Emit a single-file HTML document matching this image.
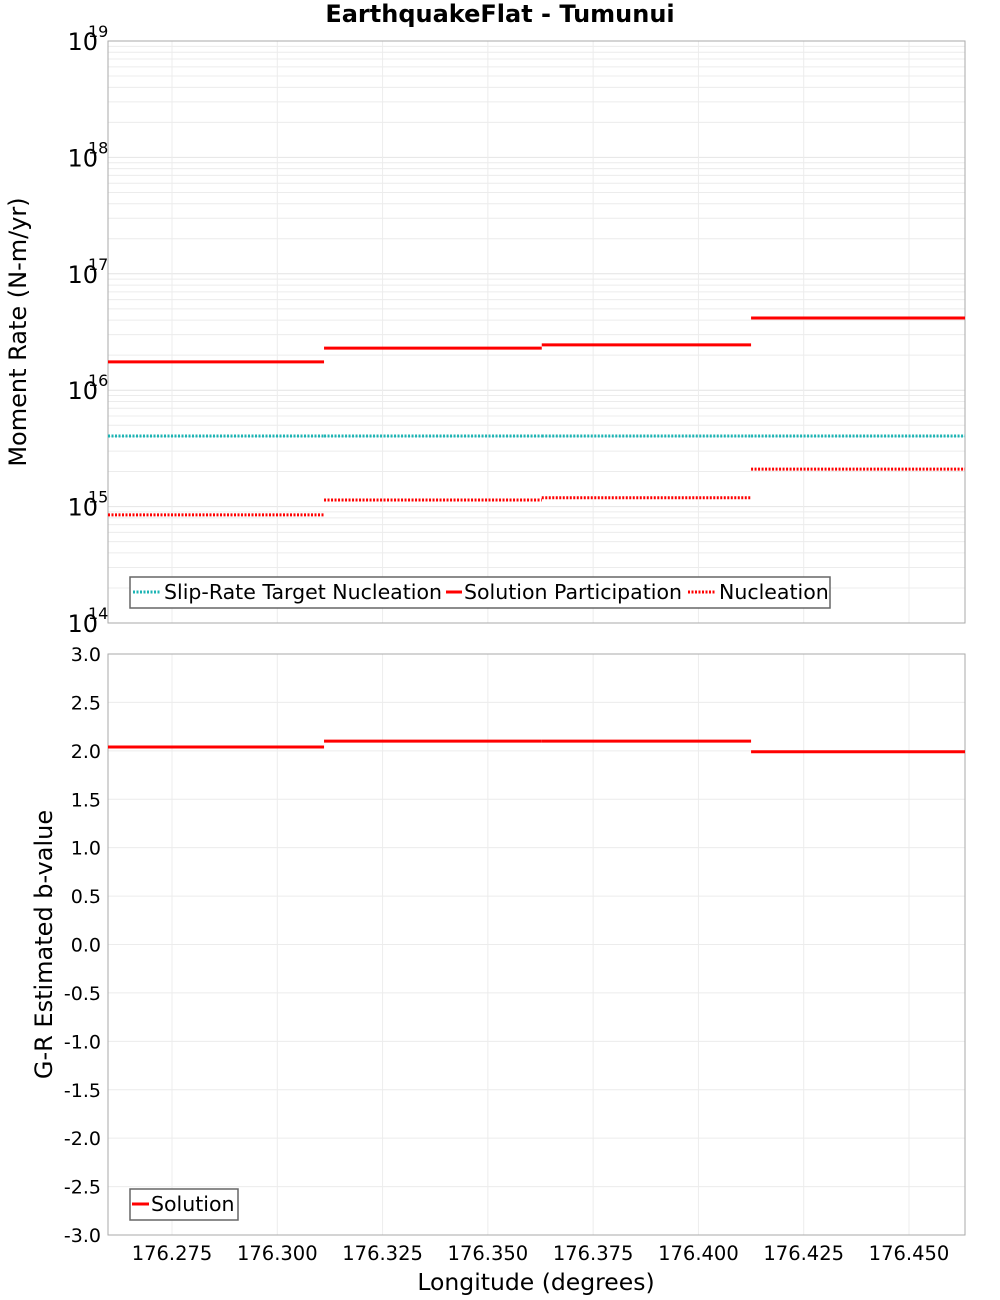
<!DOCTYPE html>
<html><head><meta charset="utf-8"><style>
body{margin:0;background:#fff;}
svg{display:block;font-family:"DejaVu Sans","Liberation Sans",sans-serif;}
</style></head><body>
<svg id="chart" width="1000" height="1300" xmlns="http://www.w3.org/2000/svg"></svg>
<script>
const segEdges = [176.2598, 176.3111, 176.3628, 176.4125, 176.4633];
const participation = [1.75e16, 2.3e16, 2.45e16, 4.17e16];
const nucleation = [8.5e14, 1.14e15, 1.19e15, 2.1e15];
const targetNucleation = [4.04e15, 4.04e15, 4.04e15, 4.04e15];
const bValues = [2.04, 2.10, 2.10, 1.99];
const xTicks = [176.275, 176.300, 176.325, 176.350, 176.375, 176.400, 176.425, 176.450];
const yLogTicks = [14, 15, 16, 17, 18, 19];
const bTicks = [-3,-2.5,-2,-1.5,-1,-0.5,0,0.5,1,1.5,2,2.5,3];

const NS = "http://www.w3.org/2000/svg";
const svg = document.getElementById('chart');
const L=108,R=965,T1=41,B1=623,T2=654,B2=1235;
const xMin=segEdges[0], xMax=segEdges[segEdges.length-1];
const xS = v => L + (v - xMin)/(xMax - xMin)*(R-L);
const yLog = v => B1 - (Math.log10(v) - 14)/5*(B1-T1);
const yB = v => B2 - (v + 3)/6*(B2-T2);
function el(tag, attrs, parent){const e=document.createElementNS(NS,tag);for(const k in attrs)e.setAttribute(k,attrs[k]);(parent||svg).appendChild(e);return e;}

const title = el('text',{x:500,y:22,'text-anchor':'middle','font-size':24,'font-weight':'bold'});


title.textContent='EarthquakeFlat - Tumunui';

const g1 = el('g',{});


for (let d=14; d<19; d++) for (let m=2; m<=9; m++){
  const y=yLog(m*Math.pow(10,d));
  el('line',{x1:L,x2:R,y1:y,y2:y,stroke:'#ececec','stroke-width':1},g1);
}
yLogTicks.forEach(d=>{const y=yLog(Math.pow(10,d));el('line',{x1:L,x2:R,y1:y,y2:y,stroke:'#e4e4e4'},g1);});
xTicks.forEach(v=>el('line',{x1:xS(v),x2:xS(v),y1:T1,y2:B1,stroke:'#ececec'},g1));
el('rect',{x:L,y:T1,width:R-L,height:B1-T1,fill:'none',stroke:'#aaa'},g1);
yLogTicks.forEach(d=>{
  const y=yLog(Math.pow(10,d));
  const t=el('text',{x:98,y:y+9,'text-anchor':'end','font-size':24},g1);
  
  
  t.textContent='10';
  const s=el('text',{x:88,y:y-4,'font-size':16},g1);
  
  
  s.textContent=String(d);
});
const yt1=el('text',{x:0,y:0,'text-anchor':'middle','font-size':24,transform:`translate(26,${(T1+B1)/2}) rotate(-90)`});


yt1.textContent='Moment Rate (N-m/yr)';

function steps(vals, yf, attrs, name, parent){
  vals.forEach((v,i)=>{
    const ln=el('line',Object.assign({x1:xS(segEdges[i]),x2:xS(segEdges[i+1]),y1:yf(v),y2:yf(v)},attrs),parent);
    
    
  });
}
steps(targetNucleation,yLog,{stroke:'#1cb4b4','stroke-width':3,'stroke-dasharray':'2,1.5'},'target-nucleation',g1);
steps(participation,yLog,{stroke:'#f00','stroke-width':3},'solution-participation',g1);
steps(nucleation,yLog,{stroke:'#f00','stroke-width':3,'stroke-dasharray':'2,1.5'},'nucleation',g1);

const lg=el('g',{});


el('rect',{x:130,y:577,width:700,height:31,fill:'#fff',stroke:'#666','stroke-width':1.5},lg);
el('line',{x1:133,x2:161,y1:592,y2:592,stroke:'#1cb4b4','stroke-width':3,'stroke-dasharray':'2,1.5'},lg);
let t=el('text',{x:164,y:599,'font-size':20.5},lg);t.textContent='Slip-Rate Target Nucleation';
el('line',{x1:446,x2:462,y1:592,y2:592,stroke:'#f00','stroke-width':3},lg);
t=el('text',{x:464,y:599,'font-size':20.5},lg);t.textContent='Solution Participation';
el('line',{x1:688,x2:716,y1:592,y2:592,stroke:'#f00','stroke-width':3,'stroke-dasharray':'2,1.5'},lg);
t=el('text',{x:719,y:599,'font-size':20.5},lg);t.textContent='Nucleation';

const g2=el('g',{});


bTicks.forEach(v=>el('line',{x1:L,x2:R,y1:yB(v),y2:yB(v),stroke:'#ececec'},g2));
xTicks.forEach(v=>el('line',{x1:xS(v),x2:xS(v),y1:T2,y2:B2,stroke:'#ececec'},g2));
el('rect',{x:L,y:T2,width:R-L,height:B2-T2,fill:'none',stroke:'#aaa'},g2);
bTicks.forEach(v=>{
  const tt=el('text',{x:101,y:yB(v)+7,'text-anchor':'end','font-size':19},g2);
  
  
  tt.textContent=v.toFixed(1);
});
steps(bValues,yB,{stroke:'#f00','stroke-width':3},'b-value-solution',g2);
const yt2=el('text',{x:0,y:0,'text-anchor':'middle','font-size':24,transform:`translate(52,${(T2+B2)/2}) rotate(-90)`});


yt2.textContent='G-R Estimated b-value';
xTicks.forEach(v=>{
  const tt=el('text',{x:xS(v),y:1260,'text-anchor':'middle','font-size':19.5},g2);
  
  
  tt.textContent=v.toFixed(3);
});
const xt=el('text',{x:536,y:1290,'text-anchor':'middle','font-size':23.5});


xt.textContent='Longitude (degrees)';
const lg2=el('g',{});


el('rect',{x:130,y:1189,width:108,height:31,fill:'#fff',stroke:'#666','stroke-width':1.5},lg2);
el('line',{x1:132,x2:149,y1:1204,y2:1204,stroke:'#f00','stroke-width':3},lg2);
t=el('text',{x:151,y:1211,'font-size':20.5},lg2);t.textContent='Solution';
</script>
</body></html>
